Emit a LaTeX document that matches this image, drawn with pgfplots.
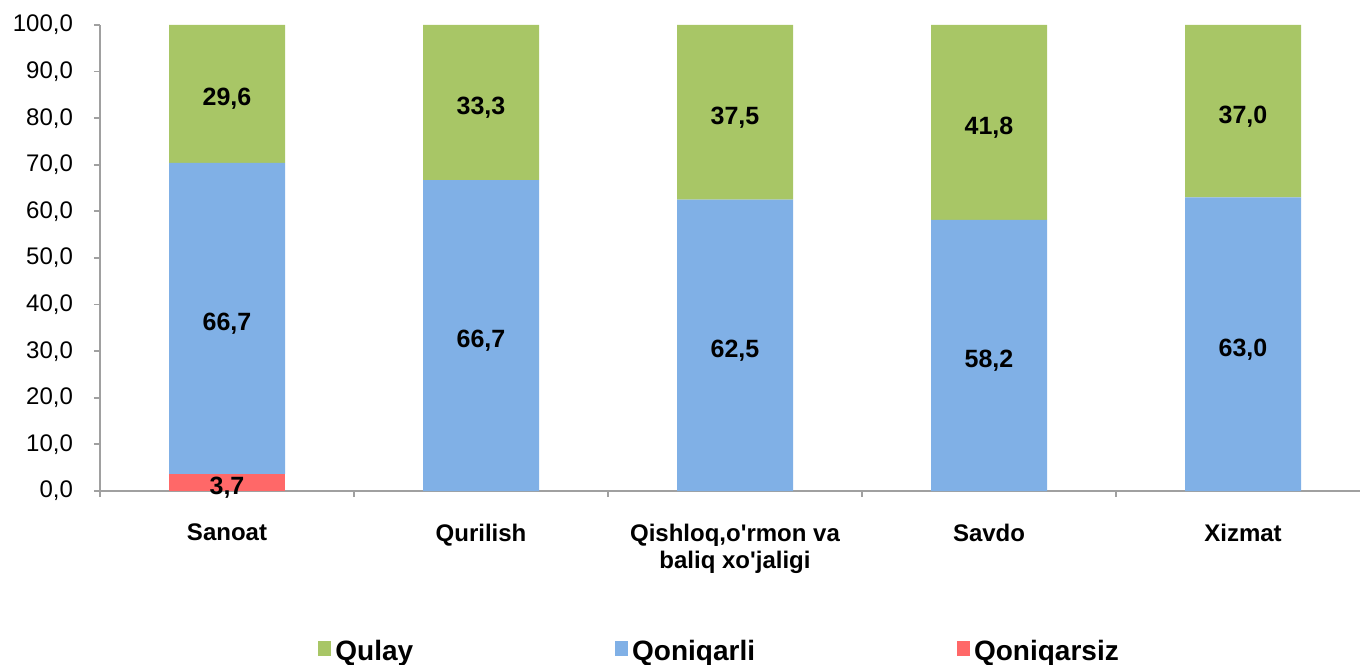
\documentclass[border=0pt]{standalone}
\usepackage{pgfplots}
\pgfplotsset{compat=1.18}
\usepackage{pgfplotstable}
\usepackage{fontspec}
\setmainfont{Liberation Sans}

\definecolor{qgreen}{RGB}{168,198,102}
\definecolor{qblue}{RGB}{128,176,230}
\definecolor{qred}{RGB}{255,104,104}
\definecolor{axgray}{RGB}{160,160,160}

% share of answers, percent, one row per sector
\pgfplotstableread{
idx qoniqarsiz qoniqarli qulay
0   3.7        66.7      29.6
1   0.0        66.7      33.3
2   0.0        62.5      37.5
3   0.0        58.2      41.8
4   0.0        63.0      37.0
}\sectors

\pgfplotsset{
    sq legend/.style={
        legend image code/.code={\fill[##1] (0pt,-2pt) rectangle (6.5pt,5.5pt);},
    },
}

\begin{document}
\begin{tikzpicture}
\begin{axis}[
    at={(50pt,86.5pt)}, anchor=south west,
    scale only axis, width=630pt, height=233pt,
    ybar stacked, bar width=58pt,
    xmin=-0.5, xmax=4.4606, ymin=0, ymax=100,
    axis lines*=left,
    axis line style={axgray, line width=0.9pt},
    every tick/.append style={axgray, line width=0.9pt},
    tick align=outside,
    major tick length=3pt, minor tick length=3pt,
    ytick={0,10,...,100},
    xtick={0,1,2,3,4},
    every major x tick/.append style={draw=none},
    minor xtick={-0.5,0.5,1.5,2.5,3.5},
    xticklabels={Sanoat, Qurilish, {Qishloq,o\textquotesingle rmon va\\baliq xo\textquotesingle jaligi}, Savdo, Xizmat},
    xticklabel style={font=\bfseries\fontsize{12}{13.5}\selectfont, align=center, yshift=-10pt},
    yticklabel style={font=\fontsize{12}{14}\selectfont, xshift=-7pt},
    /pgf/number format/.cd, fixed, fixed zerofill, precision=1, use comma, assume math mode=true,
    /pgfplots/.cd,
    nodes near coords={\pgfmathfloatifflags{\pgfplotspointmeta}{0}{}{\pgfmathprintnumber{\pgfplotspointmeta}}},
    every node near coord/.append style={font=\bfseries\fontsize{12.5}{14}\selectfont, black,
        anchor=center, yshift=-2.5pt},
    legend columns=3,
    reverse legend,
    legend style={at={(0.173,-0.346)}, anchor=west, draw=none, fill=none, inner sep=0pt,
        font=\bfseries\fontsize{14}{16}\selectfont,
        /tikz/every even column/.append style={column sep=99pt}},
]
\addplot[fill=qred, draw=none, sq legend] table[x=idx, y=qoniqarsiz] {\sectors};
\addlegendentry{Qoniqarsiz}
\addplot[fill=qblue, draw=none, sq legend] table[x=idx, y=qoniqarli] {\sectors};
\addlegendentry{Qoniqarli}
\addplot[fill=qgreen, draw=none, sq legend] table[x=idx, y=qulay] {\sectors};
\addlegendentry{Qulay}
\end{axis}
\pgfresetboundingbox
\path (0pt,0pt) rectangle (680pt,332pt);
\end{tikzpicture}
\end{document}
